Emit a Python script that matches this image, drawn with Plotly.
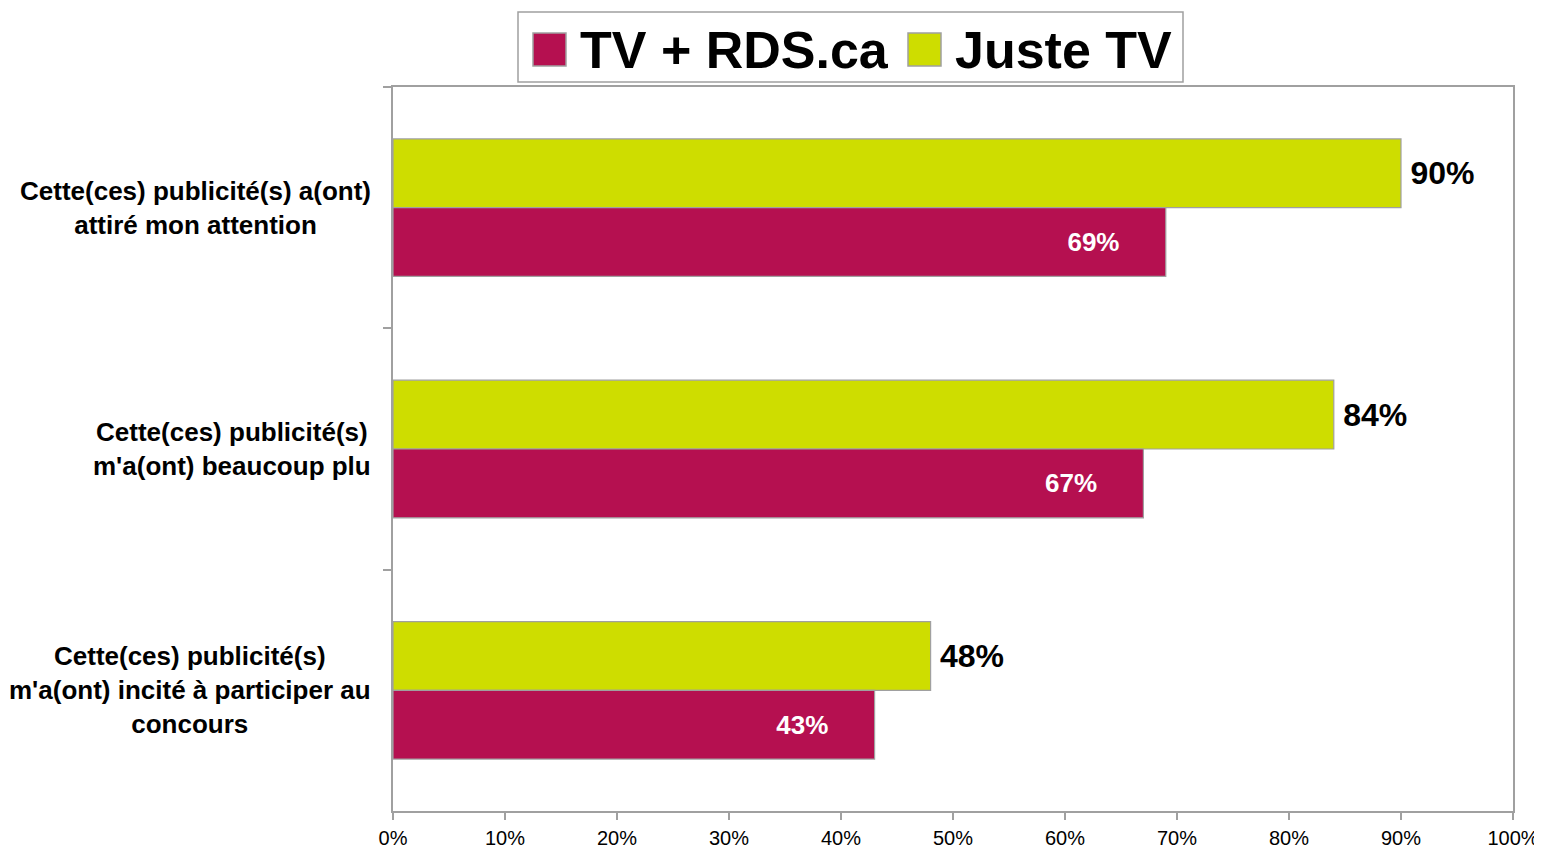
import plotly.graph_objects as go

categories = [
    "Cette(ces) publicité(s) a(ont)<br>attiré mon attention",
    "Cette(ces) publicité(s)<br>m'a(ont) beaucoup plu",
    "Cette(ces) publicité(s)<br>m'a(ont) incité à participer au<br>concours",
]
series_names = ["TV + RDS.ca", "Juste TV"]
tv_rds = [0.69, 0.67, 0.43]
juste_tv = [0.90, 0.84, 0.48]
x_ticks = [i / 10 for i in range(11)]

MAGENTA = "#B51050"
YELLOW = "#CEDD00"
GREY = "#A0A0A0"
FONT = "Arial, Liberation Sans, sans-serif"

FIG_W, FIG_H = 1542, 848
# screen -> figure pixel (page body has an 8px margin)
def fx(xs):
    return xs - 8
def fy(ys):
    return ys - 8

ML, MR = fx(393), FIG_W - fx(1513)
MT, MB = fy(87), FIG_H - fy(811)
PW, PH = FIG_W - ML - MR, FIG_H - MT - MB
def px(xs):
    return (fx(xs) - ML) / PW
def py(ys):
    return (FIG_H - MB - fy(ys)) / PH

fig = go.Figure()
fig.add_trace(go.Bar(
    name=series_names[1], y=categories, x=juste_tv, orientation="h",
    marker=dict(color=YELLOW, line=dict(color=GREY, width=1.2)),
    texttemplate="\u2009%{x:.0%}", textposition="outside",
    textfont=dict(family=FONT, size=32, color="black", weight="bold"),
    cliponaxis=False, showlegend=False,
))
fig.add_trace(go.Bar(
    name=series_names[0], y=categories, x=tv_rds, orientation="h",
    marker=dict(color=MAGENTA, line=dict(color=GREY, width=1.2)),
    texttemplate="%{x:.0%}" + "\u00a0" * 6, textposition="inside",
    insidetextanchor="end",
    textfont=dict(family=FONT, size=26, color="white", weight="bold"),
    showlegend=False,
))

# category labels (centered multi-line)
for c in categories:
    fig.add_annotation(
        x=0, xref="paper", y=c, yref="y", xanchor="right", yanchor="middle",
        xshift=-20, text=c, showarrow=False, align="center",
        font=dict(family=FONT, size=26, color="black", weight="bold"),
    )

# legend drawn manually (large squares)
fig.add_shape(type="rect", xref="paper", yref="paper",
              x0=px(518), x1=px(1183), y0=py(82), y1=py(12),
              line=dict(color=GREY, width=1.5), fillcolor="white")
for (x0, color, name, tx) in [(533, MAGENTA, series_names[0], 578),
                              (908, YELLOW, series_names[1], 953)]:
    fig.add_shape(type="rect", xref="paper", yref="paper",
                  x0=px(x0), x1=px(x0 + 33), y0=py(66), y1=py(33),
                  line=dict(color=GREY, width=1.5), fillcolor=color)
    fig.add_annotation(x=px(tx), y=py(50), xref="paper", yref="paper",
                       xanchor="left", yanchor="middle", text=name,
                       showarrow=False,
                       font=dict(family=FONT, size=52, color="black", weight="bold"))

fig.update_layout(
    width=FIG_W, height=FIG_H,
    margin=dict(l=ML, r=MR, t=MT, b=MB),
    paper_bgcolor="white", plot_bgcolor="white",
    barmode="group", bargap=0.43, bargroupgap=0,
    showlegend=False,
    font=dict(family=FONT, color="black"),
)
fig.update_xaxes(
    range=[0, 1], tickvals=x_ticks, tickformat=".0%",
    showgrid=False, zeroline=False, automargin=False,
    showline=True, linecolor=GREY, linewidth=2, mirror=True,
    ticks="outside", ticklen=7, tickcolor=GREY, tickwidth=1.5,
    ticklabelstandoff=1,
    tickfont=dict(family=FONT, size=20, color="black"),
)
fig.update_yaxes(
    autorange="reversed", showticklabels=False, showgrid=False,
    automargin=False,
    showline=True, linecolor=GREY, linewidth=2, mirror=True,
    ticks="outside", ticklen=8, tickcolor=GREY, tickwidth=1.5,
    tickson="boundaries",
)

fig.write_html("out.html", config={"displayModeBar": False})
